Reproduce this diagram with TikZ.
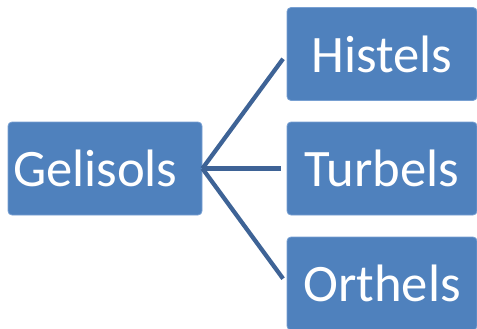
\documentclass[tikz,border=0pt]{standalone}
\usepackage{fontspec}
\setmainfont{Carlito}
\definecolor{boxfill}{RGB}{79,129,189}
\definecolor{boxedge}{RGB}{120,160,210}
\definecolor{linecol}{RGB}{62,99,150}
\begin{document}
\begin{tikzpicture}[x=0.75pt,y=-0.75pt,
  box/.style={fill=boxfill, draw=boxedge, line width=0.6pt, rounded corners=3pt,
    minimum height=69.75pt, text=white, font=\fontsize{39.5}{47}\selectfont, inner sep=0pt},
  rbox/.style={box, minimum width=142.5pt},
  conn/.style={draw=linecol, line width=3.2pt, shorten >=4.5pt}]
\useasboundingbox (0,0) rectangle (477,328);
\clip (0,0) rectangle (477,328);
\node[box, minimum width=145.5pt, text width=138pt, inner xsep=3.75pt, align=left] (G) at (105,168.5) {Gelisols};
\node[rbox] (H) at (382,54) {Histels};
\node[rbox] (T) at (382,168.5) {Turbels};
\node[rbox] (O) at (382,283.5) {Orthels};
\draw[conn] (G.east) -- (H.west);
\draw[conn] (G.east) -- (T.west);
\draw[conn] (G.east) -- (O.west);
\end{tikzpicture}
\end{document}
